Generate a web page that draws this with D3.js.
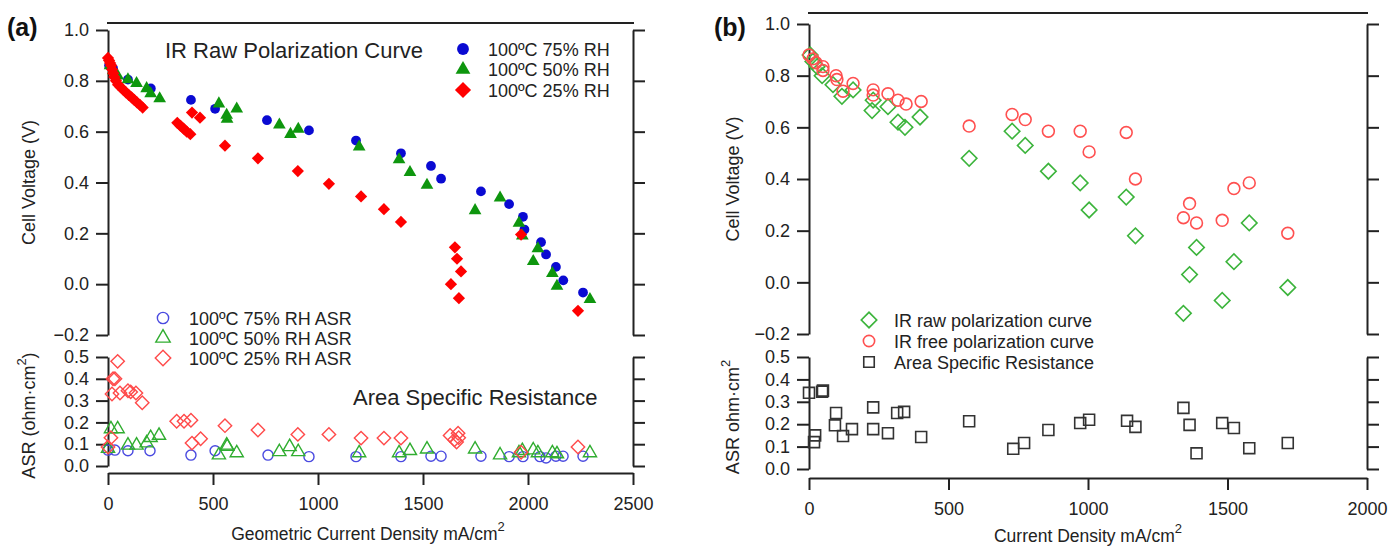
<!DOCTYPE html>
<html>
<head>
<meta charset="utf-8">
<script src="https://cdn.jsdelivr.net/npm/d3@7"></script>
<style>
  body { margin: 0; background: #fff; }
  svg { font-family: "Liberation Sans", Arial, sans-serif; }
  .axis path, .axis line { stroke: #222; stroke-width: 2; }
  .axis text { font-size: 18px; fill: #222; }
</style>
</head>
<body>
<svg width="1390" height="548"></svg>
<script>
// ---- panel (a) data: [current density mA/cm2, value] ----
const rh75V = [[5,0.86],[24,0.85],[95,0.805],[204,0.77],[395,0.725],[510,0.69],[757,0.645],[957,0.605],
  [1181,0.565],[1395,0.515],[1538,0.465],[1586,0.415],[1776,0.365],[1910,0.315],[1976,0.265],[1983,0.215],
  [2062,0.165],[2086,0.117],[2133,0.068],[2168,0.015],[2262,-0.033]];
const rh50V = [[10,0.86],[25,0.84],[46,0.82],[95,0.805],[136,0.79],[184,0.77],[203,0.75],[246,0.73],[528,0.71],
  [565,0.665],[567,0.65],[613,0.69],[816,0.627],[869,0.59],[906,0.61],[1196,0.54],[1386,0.49],[1438,0.44],
  [1519,0.39],[1748,0.29],[1867,0.34],[1957,0.24],[1973,0.19],[2025,0.09],[2047,0.14],[2116,0.043],[2138,-0.008],[2295,-0.06]];
const rh25V = [[0,0.89],[5,0.88],[10,0.87],[15,0.86],[20,0.845],[25,0.83],[30,0.815],[38,0.80],[48,0.785],[60,0.775],
  [72,0.765],[85,0.755],[98,0.745],[112,0.735],[125,0.725],[138,0.715],[152,0.705],[165,0.695],
  [330,0.635],[345,0.623],[360,0.612],[375,0.60],[392,0.59],[400,0.675],[438,0.655],[557,0.545],[714,0.495],
  [904,0.445],[1052,0.395],[1205,0.345],[1314,0.295],[1395,0.245],[1652,0.145],[1662,0.10],[1681,0.05],
  [1633,0.0],[1671,-0.055],[1967,0.195],[2238,-0.105]];
const rh75A = [[0,0.073],[33,0.073],[95,0.07],[200,0.07],[395,0.05],[510,0.07],[762,0.05],[957,0.043],[1181,0.043],
  [1395,0.043],[1538,0.045],[1586,0.045],[1776,0.045],[1910,0.043],[1976,0.043],[2057,0.043],[2086,0.037],
  [2133,0.045],[2167,0.045],[2262,0.045]];
const rh50A = [[0,0.08],[14,0.17],[46,0.17],[95,0.095],[136,0.095],[184,0.105],[203,0.13],[243,0.14],[528,0.05],
  [565,0.095],[568,0.09],[613,0.06],[816,0.065],[865,0.088],[906,0.065],[1196,0.06],[1386,0.06],[1438,0.07],
  [1519,0.077],[1748,0.077],[1867,0.05],[1957,0.06],[1973,0.07],[2025,0.073],[2047,0.06],[2116,0.06],[2138,0.055],[2295,0.06]];
const rh25A = [[0,0.087],[14,0.13],[19,0.33],[24,0.40],[33,0.40],[46,0.48],[57,0.335],[95,0.345],[108,0.34],
  [133,0.335],[163,0.29],[327,0.205],[362,0.205],[395,0.21],[400,0.105],[441,0.125],[557,0.185],[714,0.165],
  [904,0.145],[1052,0.145],[1205,0.128],[1314,0.128],[1395,0.128],[1629,0.14],[1667,0.15],[1650,0.12],
  [1660,0.11],[1670,0.13],[1967,0.063],[2238,0.087]];

// ---- panel (b) data ----
const rawV = [[4,0.88],[14,0.855],[29,0.835],[47,0.80],[86,0.765],[118,0.72],[158,0.745],[226,0.665],[230,0.705],
  [283,0.68],[319,0.62],[344,0.60],[398,0.64],[574,0.48],[728,0.585],[775,0.53],[858,0.43],[972,0.385],
  [1004,0.28],[1137,0.33],[1170,0.18],[1389,0.135],[1364,0.03],[1342,-0.12],[1481,-0.07],[1523,0.08],
  [1578,0.23],[1716,-0.02]];
const freeV = [[0,0.88],[14,0.865],[25,0.85],[50,0.835],[50,0.82],[97,0.80],[100,0.785],[122,0.74],[158,0.77],
  [230,0.745],[230,0.725],[283,0.73],[319,0.705],[348,0.69],[402,0.70],[574,0.605],[728,0.65],[775,0.63],
  [858,0.585],[972,0.585],[1004,0.505],[1137,0.58],[1170,0.40],[1364,0.305],[1342,0.25],[1389,0.23],
  [1481,0.24],[1523,0.363],[1578,0.385],[1716,0.19]];
const asrB = [[0,0.34],[22,0.15],[18,0.12],[47,0.345],[50,0.35],[97,0.25],[93,0.195],[122,0.147],[154,0.178],
  [230,0.275],[230,0.178],[283,0.16],[316,0.25],[341,0.255],[402,0.143],[574,0.213],[732,0.09],[771,0.116],
  [858,0.174],[972,0.205],[1004,0.22],[1140,0.215],[1170,0.188],[1342,0.273],[1364,0.197],[1389,0.07],
  [1481,0.205],[1523,0.183],[1578,0.093],[1716,0.116]];

const voltTicks = [-0.2, 0, 0.2, 0.4, 0.6, 0.8, 1.0];
const asrTicks = [0, 0.1, 0.2, 0.3, 0.4, 0.5];

const svg = d3.select("svg");

function symType(shape) {
  return shape === 'circle' ? d3.symbolCircle : shape === 'tri' ? d3.symbolTriangle : d3.symbolSquare;
}

function drawPanel(cfg) {
  const x = d3.scaleLinear().domain([0, cfg.xMax]).range([cfg.left, cfg.right]);
  const yV = d3.scaleLinear().domain([-0.2, 1.0]).range([cfg.vBottom, cfg.vTop]);
  const yA = d3.scaleLinear().domain([0, 0.5]).range([cfg.aBottom, cfg.aTop]);

  // top frame line (no ticks)
  svg.append('line').attr('x1', cfg.left - 1).attr('x2', cfg.right + 1)
    .attr('y1', cfg.topLine).attr('y2', cfg.topLine).attr('stroke', '#222').attr('stroke-width', 2);

  svg.append('g').attr('class', 'axis').attr('transform', `translate(${cfg.left},0)`)
    .call(d3.axisLeft(yV).tickValues(voltTicks).tickFormat(d3.format('.1f')).tickSize(12).tickSizeOuter(0).tickPadding(7));
  svg.append('g').attr('class', 'axis').attr('transform', `translate(${cfg.right},0)`)
    .call(d3.axisRight(yV).tickValues(voltTicks).tickFormat('').tickSize(12).tickSizeOuter(0));
  svg.append('g').attr('class', 'axis').attr('transform', `translate(${cfg.left},0)`)
    .call(d3.axisLeft(yA).tickValues(asrTicks).tickFormat(d3.format('.1f')).tickSize(12).tickSizeOuter(0).tickPadding(7));
  svg.append('g').attr('class', 'axis').attr('transform', `translate(${cfg.right},0)`)
    .call(d3.axisRight(yA).tickValues(asrTicks).tickFormat('').tickSize(12).tickSizeOuter(0));
  svg.append('g').attr('class', 'axis').attr('transform', `translate(0,${cfg.xAxisY})`)
    .call(d3.axisBottom(x).ticks(cfg.xMax / 500).tickFormat(d3.format('d')).tickSize(12).tickSizeOuter(0).tickPadding(12));

  // labels
  svg.append('text').attr('x', cfg.letterX).attr('y', 36).attr('font-size', 25).attr('font-weight', 'bold')
    .attr('fill', '#111').text(cfg.letter);
  svg.append('text').attr('transform', `translate(${cfg.titleX},${(cfg.vTop + cfg.vBottom) / 2}) rotate(-90)`)
    .attr('text-anchor', 'middle').attr('font-size', 18).attr('fill', '#222').text('Cell Voltage (V)');
  const asrLab = svg.append('text')
    .attr('transform', `translate(${cfg.titleX},${(cfg.aTop + cfg.aBottom) / 2 + 4}) rotate(-90)`)
    .attr('text-anchor', 'middle').attr('font-size', 18).attr('fill', '#222');
  asrLab.append('tspan').text(cfg.asrLabel);
  asrLab.append('tspan').attr('dy', -9).attr('font-size', 13).text('2');
  if (cfg.asrClose) asrLab.append('tspan').attr('dy', 9).text(')');
  const xl = svg.append('text').attr('x', cfg.xTitleX).attr('y', cfg.xTitleY).attr('text-anchor', 'middle')
    .attr('font-size', 17.5).attr('fill', '#222');
  xl.append('tspan').text(cfg.xTitle);
  xl.append('tspan').attr('dy', -9).attr('font-size', 13).text('2');

  return {x, yV, yA};
}

function plot(sc, ys, data, shape, size, fill, stroke, sw) {
  const gen = d3.symbol().type(symType(shape)).size(size);
  svg.append('g').selectAll('path').data(data).join('path')
    .attr('d', gen)
    .attr('transform', d => `translate(${sc.x(d[0])},${ys(d[1])})` + (shape === 'diamond' ? ' rotate(45)' : ''))
    .attr('fill', fill).attr('stroke', stroke).attr('stroke-width', sw);
}

function legend(items, lx, tx, y0, dy) {
  items.forEach((it, i) => {
    const gen = d3.symbol().type(symType(it.shape)).size(it.size);
    svg.append('path').attr('d', gen)
      .attr('transform', `translate(${lx},${y0 + i * dy})` + (it.shape === 'diamond' ? ' rotate(45)' : ''))
      .attr('fill', it.fill).attr('stroke', it.stroke).attr('stroke-width', it.sw);
    svg.append('text').attr('x', tx).attr('y', y0 + i * dy + 6.5).attr('font-size', 18).attr('fill', '#222').text(it.label);
  });
}

// ---------- panel (a) ----------
const A = drawPanel({left: 108, right: 633, xMax: 2500, vTop: 30, vBottom: 335, aTop: 357, aBottom: 466,
  topLine: 23, xAxisY: 473, letter: '(a)', letterX: 7, titleX: 35, asrLabel: 'ASR (ohm·cm', asrClose: true,
  xTitle: 'Geometric Current Density mA/cm', xTitleX: 368, xTitleY: 540});

const blue = '#0a0ad2', green = '#0e960e', red = '#ff0000';
plot(A, A.yA, rh75A, 'circle', 80, 'none', '#4a4ae0', 1.4);
plot(A, A.yA, rh50A, 'tri', 75, 'none', '#30ad30', 1.4);
plot(A, A.yA, rh25A, 'diamond', 90, 'none', '#ff4a4a', 1.4);
plot(A, A.yV, rh75V, 'circle', 75, blue, 'none', 0);
plot(A, A.yV, rh50V, 'tri', 70, green, 'none', 0);
plot(A, A.yV, rh25V, 'diamond', 75, red, 'none', 0);

svg.append('text').attr('x', 165).attr('y', 58).attr('font-size', 22).attr('fill', '#222').text('IR Raw Polarization Curve');
svg.append('text').attr('x', 353).attr('y', 405).attr('font-size', 22).attr('fill', '#222').text('Area Specific Resistance');

legend([
  {shape: 'circle', size: 110, fill: blue, stroke: 'none', sw: 0, label: '100ºC 75% RH'},
  {shape: 'tri', size: 95, fill: green, stroke: 'none', sw: 0, label: '100ºC 50% RH'},
  {shape: 'diamond', size: 130, fill: red, stroke: 'none', sw: 0, label: '100ºC 25% RH'}
], 463, 488, 49, 20.5);
legend([
  {shape: 'circle', size: 100, fill: 'none', stroke: '#4a4ae0', sw: 1.4, label: '100ºC 75% RH ASR'},
  {shape: 'tri', size: 90, fill: 'none', stroke: '#30ad30', sw: 1.4, label: '100ºC 50% RH ASR'},
  {shape: 'diamond', size: 120, fill: 'none', stroke: '#ff4a4a', sw: 1.4, label: '100ºC 25% RH ASR'}
], 163, 189, 318, 20);

// ---------- panel (b) ----------
const B = drawPanel({left: 809, right: 1367, xMax: 2000, vTop: 24, vBottom: 334, aTop: 357, aBottom: 469,
  topLine: 13, xAxisY: 478, letter: '(b)', letterX: 714, titleX: 739, asrLabel: 'ASR ohm·cm', asrClose: false,
  xTitle: 'Current Density mA/cm', xTitleX: 1088, xTitleY: 542});

const gB = '#3cb43c', rB = '#ff5050';
plot(B, B.yV, rawV, 'diamond', 120, 'none', gB, 1.6);
plot(B, B.yV, freeV, 'circle', 110, 'none', rB, 1.6);
plot(B, B.yA, asrB, 'square', 120, 'none', '#333', 1.6);

legend([
  {shape: 'diamond', size: 120, fill: 'none', stroke: gB, sw: 1.6, label: 'IR raw polarization curve'},
  {shape: 'circle', size: 100, fill: 'none', stroke: rB, sw: 1.6, label: 'IR free polarization curve'},
  {shape: 'square', size: 110, fill: 'none', stroke: '#333', sw: 1.6, label: 'Area Specific Resistance'}
], 869, 894, 320, 21);
</script>
</body>
</html>
